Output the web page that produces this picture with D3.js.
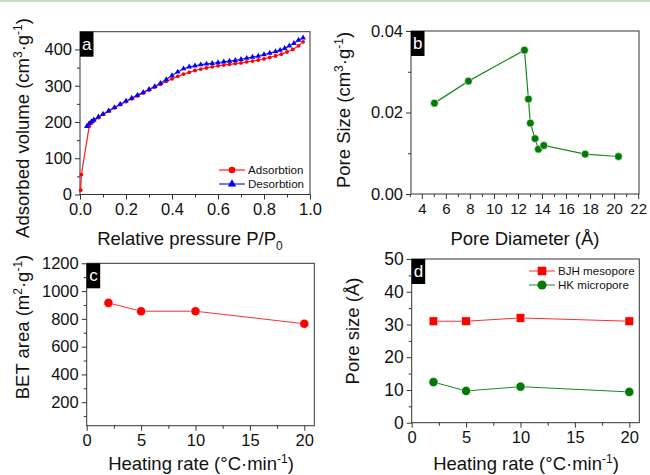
<!DOCTYPE html>
<html><head><meta charset="utf-8">
<script src="https://cdn.jsdelivr.net/npm/d3@7"></script>
<style>
body{margin:0;background:#fff;}
svg{display:block;font-family:"Liberation Sans",Arial,sans-serif;}
</style></head>
<body><svg id="c" width="650" height="475"></svg>
<script>
// ---------- DATA ----------
// Panel a: N2 isotherm
const adsP = [0.003,0.006,0.04,0.05,0.06,0.08,0.10,0.125,0.15,0.175,0.20,0.225,0.25,0.275,0.30,0.325,0.35,0.375,0.40,0.425,0.45,0.475,0.50,0.525,0.55,0.575,0.60,0.625,0.65,0.675,0.70,0.725,0.75,0.775,0.80,0.825,0.85,0.875,0.90,0.925,0.95,0.97];
const adsV = [12,55,188,197,203,212,221,230,239,248,256,264,272,280,288,296,304,312,319,326,332,337,342,346,349,352,355,357,359,361,363,366,368,371,374,378,382,387,393,400,410,421];
const desP = [0.97,0.95,0.93,0.91,0.89,0.87,0.85,0.825,0.80,0.775,0.75,0.725,0.70,0.675,0.65,0.625,0.60,0.575,0.55,0.525,0.50,0.475,0.45,0.425,0.40,0.375,0.35,0.325,0.30,0.275,0.25,0.225,0.20,0.175,0.15,0.125,0.10,0.08,0.06,0.05,0.04,0.03];
const desV = [432,426,417,410,403,398,394,390,386,382,379,376,373,370,368,366,364,362,360,358,355,352,347,338,328,317,307,298,290,282,274,266,258,249,240,231,222,214,206,201,196,188];
// Panel b: pore size distribution
const poreD = [5.05,7.88,12.54,12.87,13.03,13.42,13.70,14.15,17.59,20.36];
const poreV = [0.0223,0.0277,0.0353,0.0233,0.0174,0.0136,0.0110,0.0119,0.0098,0.0092];
// Panels c, d: heating rate
const heatRate = [2,5,10,20];
const betArea = [915,855,855,765];
const bjhMeso = [31,31,32,31];
const hkMicro = [12.4,9.7,11.0,9.4];
// tick labels
const ticksA_X = [0,0.2,0.4,0.6,0.8,1.0];
const ticksA_Y = [0,100,200,300,400];
const ticksB_X = [4,6,8,10,12,14,16,18,20,22];
const ticksB_Y = [0,0.02,0.04];
const ticksC_X = [0,5,10,15,20];
const ticksC_Y = [200,400,600,800,1000,1200];
const ticksD_Y = [0,10,20,30,40,50];

// ---------- DRAW ----------
const svg = d3.select("#c");
svg.append("rect").attr("x",0).attr("y",0).attr("width",650).attr("height",2).attr("fill","#bfe3c0");

const AX = "#333";
function panel(o){
  const g = svg.append("g");
  const x = d3.scaleLinear().domain(o.xd).range(o.xr);
  const y = d3.scaleLinear().domain(o.yd).range(o.yr);
  // minor ticks
  g.append("g").attr("transform",`translate(0,${o.yr[0]})`)
    .call(d3.axisBottom(x).tickValues(o.xminor).tickSize(3).tickFormat(""))
    .call(a=>{a.select(".domain").remove();a.selectAll("line").attr("stroke",AX);});
  g.append("g").attr("transform",`translate(${o.xr[0]},0)`)
    .call(d3.axisLeft(y).tickValues(o.yminor).tickSize(3).tickFormat(""))
    .call(a=>{a.select(".domain").remove();a.selectAll("line").attr("stroke",AX);});
  // major ticks
  g.append("g").attr("transform",`translate(0,${o.yr[0]})`)
    .call(d3.axisBottom(x).tickValues(o.xt).tickSize(5).tickPadding(4).tickFormat(o.xf))
    .call(a=>{a.select(".domain").remove();a.selectAll("line").attr("stroke",AX);
      a.selectAll("text").attr("font-size",o.xfs||16.5).attr("fill","#111").attr("font-family","Liberation Sans, Arial, sans-serif");});
  g.append("g").attr("transform",`translate(${o.xr[0]},0)`)
    .call(d3.axisLeft(y).tickValues(o.yt).tickSize(5).tickPadding(3).tickFormat(o.yf))
    .call(a=>{a.select(".domain").remove();a.selectAll("line").attr("stroke",AX);
      a.selectAll("text").attr("font-size",o.yfs||16.5).attr("fill","#111").attr("font-family","Liberation Sans, Arial, sans-serif");});
  // frame
  g.append("rect").attr("x",o.xr[0]).attr("y",o.yr[1]).attr("width",o.xr[1]-o.xr[0]).attr("height",o.yr[0]-o.yr[1])
    .attr("fill","none").attr("stroke",AX).attr("stroke-width",1);
  // letter label
  g.append("rect").attr("x",o.xr[0]).attr("y",o.yr[1]).attr("width",13.5).attr("height",25).attr("fill","#000");
  g.append("text").attr("x",o.xr[0]+6.8).attr("y",o.yr[1]+18).attr("text-anchor","middle")
    .attr("fill","#fff").attr("font-size",17).text(o.letter);
  return {g,x,y};
}

function titleX(g, cx, cy, parts){
  const t = g.append("text").attr("x",cx).attr("y",cy).attr("text-anchor","middle").attr("font-size",18.5).attr("fill","#111");
  addParts(t, parts);
}
function titleY(g, cx, cy, parts){
  const t = g.append("text").attr("transform",`translate(${cx},${cy}) rotate(-90)`).attr("text-anchor","middle").attr("font-size",18.5).attr("fill","#111");
  addParts(t, parts);
}
function addParts(t, parts){
  let cur = 0;
  parts.forEach(p=>{
    const shift = p.sup ? -7 : (p.sub ? 5 : 0);
    t.append("tspan").attr("dy",shift-cur).attr("font-size",(p.sup||p.sub)?12:18.5).text(p.t);
    cur = shift;
  });
}

// ---- Panel a ----
const A = panel({xd:[0,1],xr:[80,310],yd:[0,449],yr:[194.5,31.7],
  xt:ticksA_X,xminor:[0.1,0.3,0.5,0.7,0.9],xf:d3.format(".1f"),
  yt:ticksA_Y,yminor:[50,150,250,350],yf:d3.format("d"),letter:"a"});
A.g.append("path").datum(adsP.map((p,i)=>[p,adsV[i]]))
  .attr("d",d3.line().x(d=>A.x(d[0])).y(d=>A.y(d[1]))).attr("fill","none").attr("stroke","#ff2020").attr("stroke-width",1.2);
A.g.append("path").datum(desP.map((p,i)=>[p,desV[i]]))
  .attr("d",d3.line().x(d=>A.x(d[0])).y(d=>A.y(d[1]))).attr("fill","none").attr("stroke","#2020ff").attr("stroke-width",1.2);
A.g.selectAll(".ad").data(adsP).join("circle").attr("cx",d=>A.x(d)).attr("cy",(d,i)=>A.y(adsV[i])).attr("r",1.9).attr("fill","#ff0000");
const tri = d3.symbol().type(d3.symbolTriangle).size(14);
A.g.selectAll(".de").data(desP).join("path").attr("d",tri).attr("transform",(d,i)=>`translate(${A.x(d)},${A.y(desV[i])})`).attr("fill","#0000ff");
// legend a
const legA = A.g.append("g");
legA.append("line").attr("x1",219).attr("x2",245).attr("y1",170).attr("y2",170).attr("stroke","#ff2020").attr("stroke-width",1.2);
legA.append("circle").attr("cx",232).attr("cy",170).attr("r",3.3).attr("fill","#ff0000");
legA.append("text").attr("x",248).attr("y",174).attr("font-size",11.6).attr("fill","#111").text("Adsorbtion");
legA.append("line").attr("x1",219).attr("x2",245).attr("y1",184).attr("y2",184).attr("stroke","#2020ff").attr("stroke-width",1.2);
legA.append("path").attr("d",d3.symbol().type(d3.symbolTriangle).size(30)).attr("transform","translate(232,184)").attr("fill","#0000ff");
legA.append("text").attr("x",248).attr("y",188).attr("font-size",11.6).attr("fill","#111").text("Desorbtion");
titleY(A.g, 29, 128, [{t:"Adsorbed volume (cm"},{t:"3",sup:true},{t:"·g"},{t:"-1",sup:true},{t:")"}]);
titleX(A.g, 190, 245, [{t:"Relative pressure P/P"},{t:"0",sub:true}]);

// ---- Panel b ----
const B = panel({xd:[3.1,22.07],xr:[411,639],yd:[0,0.04],yr:[194,31],
  xt:ticksB_X,xminor:[3,5,7,9,11,13,15,17,19,21],xf:d3.format("d"),xfs:15,
  yt:ticksB_Y,yminor:[0.01,0.03],yf:d3.format(".2f"),letter:"b"});
B.g.append("path").datum(poreD.map((d,i)=>[d,poreV[i]]))
  .attr("d",d3.line().x(d=>B.x(d[0])).y(d=>B.y(d[1]))).attr("fill","none").attr("stroke","#1a8a1a").attr("stroke-width",1.2);
B.g.selectAll(".pb").data(poreD).join("circle").attr("cx",d=>B.x(d)).attr("cy",(d,i)=>B.y(poreV[i])).attr("r",3.9)
  .attr("fill","#067806").attr("stroke","#fff").attr("stroke-width",0.6);
titleY(B.g, 350, 110, [{t:"Pore Size  (cm"},{t:"3",sup:true},{t:"·g"},{t:"-1",sup:true},{t:")"}]);
titleX(B.g, 525, 245, [{t:"Pore Diameter (Å)"}]);

// ---- Panel c ----
const C = panel({xd:[0,20.92],xr:[86.7,314.3],yd:[31,1200],yr:[425.7,263.3],
  xt:ticksC_X,xminor:[2.5,7.5,12.5,17.5],xf:d3.format("d"),
  yt:ticksC_Y,yminor:[100,300,500,700,900,1100],yf:d3.format("d"),letter:"c"});
C.g.append("path").datum(heatRate.map((d,i)=>[d,betArea[i]]))
  .attr("d",d3.line().x(d=>C.x(d[0])).y(d=>C.y(d[1]))).attr("fill","none").attr("stroke","#ff3030").attr("stroke-width",1);
C.g.selectAll(".pc").data(heatRate).join("circle").attr("cx",d=>C.x(d)).attr("cy",(d,i)=>C.y(betArea[i])).attr("r",4.6)
  .attr("fill","#ff0000").attr("stroke","#fff").attr("stroke-width",0.6);
titleY(C.g, 29, 327, [{t:"BET area (m"},{t:"2",sup:true},{t:"·g"},{t:"-1",sup:true},{t:")"}]);
titleX(C.g, 201, 470, [{t:"Heating rate (°C·min"},{t:"-1",sup:true},{t:")"}]);

// ---- Panel d ----
const D = panel({xd:[0,20.92],xr:[411.7,639.3],yd:[0,50],yr:[422.7,259],
  xt:ticksC_X,xminor:[2.5,7.5,12.5,17.5],xf:d3.format("d"),yfs:17.5,
  yt:ticksD_Y,yminor:[5,15,25,35,45],yf:d3.format("d"),letter:"d"});
D.g.append("path").datum(heatRate.map((d,i)=>[d,bjhMeso[i]]))
  .attr("d",d3.line().x(d=>D.x(d[0])).y(d=>D.y(d[1]))).attr("fill","none").attr("stroke","#ff3030").attr("stroke-width",1);
D.g.append("path").datum(heatRate.map((d,i)=>[d,hkMicro[i]]))
  .attr("d",d3.line().x(d=>D.x(d[0])).y(d=>D.y(d[1]))).attr("fill","none").attr("stroke","#1a8a1a").attr("stroke-width",1);
D.g.selectAll(".sq").data(heatRate).join("rect").attr("x",d=>D.x(d)-4.3).attr("y",(d,i)=>D.y(bjhMeso[i])-4.3)
  .attr("width",8.6).attr("height",8.6).attr("fill","#ff0000").attr("stroke","#fff").attr("stroke-width",0.5);
D.g.selectAll(".ci").data(heatRate).join("circle").attr("cx",d=>D.x(d)).attr("cy",(d,i)=>D.y(hkMicro[i])).attr("r",4.6)
  .attr("fill","#067806").attr("stroke","#fff").attr("stroke-width",0.6);
const legD = D.g.append("g");
legD.append("line").attr("x1",529).attr("x2",555).attr("y1",271).attr("y2",271).attr("stroke","#ff3030");
legD.append("rect").attr("x",537.7).attr("y",266.7).attr("width",8.6).attr("height",8.6).attr("fill","#ff0000");
legD.append("text").attr("x",558).attr("y",275).attr("font-size",11.6).attr("fill","#111").text("BJH mesopore");
legD.append("line").attr("x1",529).attr("x2",555).attr("y1",285).attr("y2",285).attr("stroke","#1a8a1a");
legD.append("circle").attr("cx",542).attr("cy",285).attr("r",4.6).attr("fill","#067806");
legD.append("text").attr("x",558).attr("y",289).attr("font-size",11.6).attr("fill","#111").text("HK micropore");
titleY(D.g, 359, 331, [{t:"Pore size (Å)"}]);
titleX(D.g, 526, 470, [{t:"Heating rate (°C·min"},{t:"-1",sup:true},{t:")"}]);
</script></body></html>
